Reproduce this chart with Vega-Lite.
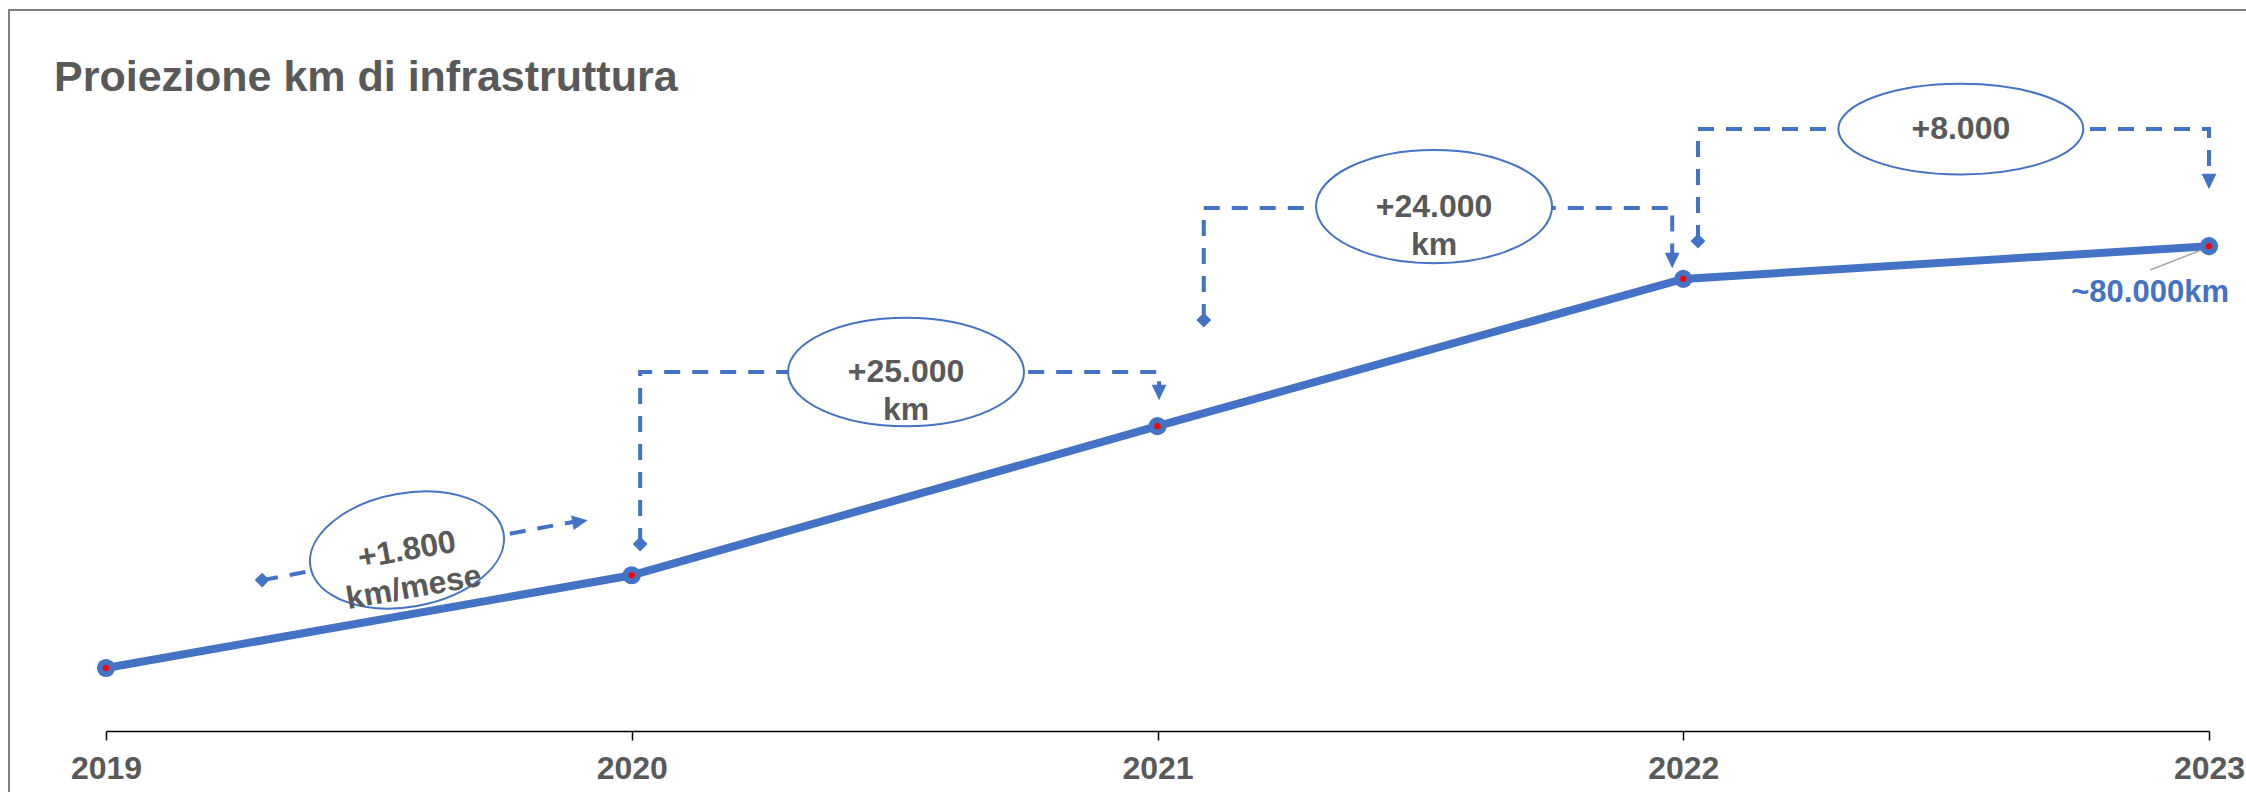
{
  "$schema": "https://vega.github.io/schema/vega-lite/v6.json",
  "autosize": "none",
  "width": 2103,
  "height": 606,
  "padding": {"left": 106, "top": 125, "right": 37, "bottom": 61},
  "background": "white",
  "config": {"view": {"stroke": null}, "font": "Liberation Sans"},
  "title": {
    "text": "Proiezione km di infrastruttura",
    "anchor": "start",
    "frame": "group",
    "dx": -52,
    "baseline": "alphabetic",
    "offset": -125,
    "font": "Liberation Sans",
    "fontSize": 43,
    "fontWeight": "bold",
    "color": "#595959"
  },
  "datasets": {
    "series": [
      {"year": 2019, "km": 10400},
      {"year": 2020, "km": 25700},
      {"year": 2021, "km": 50300},
      {"year": 2022, "km": 74600},
      {"year": 2023, "km": 80000}
    ],
    "connectors": [
      {"c": "A", "i": 0, "year": 2019.297, "km": 24900},
      {"c": "A", "i": 1, "year": 2019.888, "km": 34500},
      {"c": "B", "i": 0, "year": 2020.016, "km": 30855},
      {"c": "B", "i": 1, "year": 2020.016, "km": 59235},
      {"c": "B", "i": 2, "year": 2021.003, "km": 59235},
      {"c": "B", "i": 3, "year": 2021.003, "km": 57090},
      {"c": "C", "i": 0, "year": 2021.088, "km": 67815},
      {"c": "C", "i": 1, "year": 2021.088, "km": 86295},
      {"c": "C", "i": 2, "year": 2021.979, "km": 86295},
      {"c": "C", "i": 3, "year": 2021.979, "km": 78870},
      {"c": "D", "i": 0, "year": 2022.028, "km": 80850},
      {"c": "D", "i": 1, "year": 2022.028, "km": 99330},
      {"c": "D", "i": 2, "year": 2023.0, "km": 99330},
      {"c": "D", "i": 3, "year": 2023.0, "km": 91900}
    ],
    "starts": [
      {"c": "A", "year": 2019.297, "km": 24900},
      {"c": "B", "year": 2020.016, "km": 30855},
      {"c": "C", "year": 2021.088, "km": 67815},
      {"c": "D", "year": 2022.028, "km": 80850}
    ],
    "ends": [
      {"c": "A", "year": 2019.9016, "km": 34570},
      {"c": "B", "year": 2021.003, "km": 55850},
      {"c": "C", "year": 2021.979, "km": 77630},
      {"c": "D", "year": 2023.0, "km": 90670}
    ],
    "boxes": [
      {"c": "A", "year": 2019.5725, "km": 29865, "label": "+1.800\nkm/mese"},
      {"c": "B", "year": 2020.5217, "km": 59235, "label": "+25.000\nkm"},
      {"c": "C", "year": 2021.526, "km": 86543, "label": "+24.000\nkm"},
      {"c": "D", "year": 2022.528, "km": 99330, "label": "+8.000"}
    ],
    "leader": [
      {"year": 2022.888, "km": 76065, "year2": 2023.0, "km2": 79860}
    ],
    "final": [
      {"year": 2022.888, "km": 72270, "label": "~80.000km"}
    ],
    "frame": [
      {"year": 2018.8155, "km": 118965, "year2": 2023.4, "km2": -20000}
    ]
  },
  "encoding": {
    "x": {
      "field": "year",
      "type": "quantitative",
      "scale": {"domain": [2019, 2023], "nice": false, "zero": false},
      "axis": {
        "values": [2019, 2020, 2021, 2022, 2023],
        "format": "d",
        "title": null,
        "grid": false,
        "labelFont": "Liberation Sans",
        "labelFontSize": 32,
        "labelFontWeight": "bold",
        "labelColor": "#595959",
        "labelPadding": 13,
        "labelFlush": false,
        "labelOverlap": false,
        "domainColor": "#000000",
        "domainWidth": 1.5,
        "tickColor": "#000000",
        "tickWidth": 1.5,
        "tickSize": 9
      }
    },
    "y": {
      "field": "km",
      "type": "quantitative",
      "scale": {"domain": [0, 100000], "nice": false, "zero": false},
      "axis": null
    }
  },
  "layer": [
    {
      "data": {"name": "frame"},
      "mark": {"type": "rect", "fillOpacity": 0, "stroke": "#7f7f7f", "strokeWidth": 2, "clip": false},
      "encoding": {
        "x2": {"field": "year2"},
        "y2": {"field": "km2"}
      }
    },
    {
      "data": {"name": "connectors"},
      "mark": {"type": "line", "color": "#4472C4", "strokeWidth": 4, "strokeDash": [16, 12], "strokeCap": "butt"},
      "encoding": {
        "detail": {"field": "c", "type": "nominal"},
        "order": {"field": "i", "type": "quantitative"}
      }
    },
    {
      "data": {"name": "starts"},
      "mark": {"type": "point", "shape": "diamond", "filled": true, "color": "#4472C4", "size": 220, "opacity": 1},
      "encoding": {}
    },
    {
      "data": {"name": "ends"},
      "transform": [{"filter": "datum.c === 'A'"}],
      "mark": {"type": "point", "shape": "M1,0L-1,-0.95L-1,0.95Z", "filled": true, "color": "#4472C4", "size": 240, "opacity": 1, "angle": -10},
      "encoding": {}
    },
    {
      "data": {"name": "ends"},
      "transform": [{"filter": "datum.c !== 'A'"}],
      "mark": {"type": "point", "shape": "M1,0L-1,-0.95L-1,0.95Z", "filled": true, "color": "#4472C4", "size": 240, "opacity": 1, "angle": 90},
      "encoding": {}
    },
    {
      "data": {"name": "series"},
      "mark": {"type": "line", "color": "#4472C4", "strokeWidth": 8},
      "encoding": {}
    },
    {
      "data": {"name": "boxes"},
      "transform": [{"filter": "datum.c === 'A'"}],
      "mark": {"type": "point", "shape": "M-1,0A1,0.58,0,1,1,1,0A1,0.58,0,1,1,-1,0Z", "size": 38416, "angle": -10, "filled": true, "fill": "white", "stroke": "#4472C4", "strokeWidth": 2, "opacity": 1},
      "encoding": {}
    },
    {
      "data": {"name": "boxes"},
      "transform": [{"filter": "datum.c === 'B'"}],
      "mark": {"type": "point", "shape": "M-1,0A1,0.46,0,1,1,1,0A1,0.46,0,1,1,-1,0Z", "size": 55696, "filled": true, "fill": "white", "stroke": "#4472C4", "strokeWidth": 2, "opacity": 1},
      "encoding": {}
    },
    {
      "data": {"name": "boxes"},
      "transform": [{"filter": "datum.c === 'C'"}],
      "mark": {"type": "point", "shape": "M-1,0A1,0.48,0,1,1,1,0A1,0.48,0,1,1,-1,0Z", "size": 55696, "filled": true, "fill": "white", "stroke": "#4472C4", "strokeWidth": 2, "opacity": 1},
      "encoding": {}
    },
    {
      "data": {"name": "boxes"},
      "transform": [{"filter": "datum.c === 'D'"}],
      "mark": {"type": "point", "shape": "M-1,0A1,0.37,0,1,1,1,0A1,0.37,0,1,1,-1,0Z", "size": 60025, "filled": true, "fill": "white", "stroke": "#4472C4", "strokeWidth": 2, "opacity": 1},
      "encoding": {}
    },
    {
      "data": {"name": "boxes"},
      "transform": [{"filter": "datum.c === 'A'"}],
      "mark": {"type": "text", "font": "Liberation Sans", "fontSize": 32, "fontWeight": "bold", "color": "#595959", "lineBreak": "\n", "lineHeight": 38, "align": "center", "baseline": "middle", "angle": 350},
      "encoding": {"text": {"field": "label", "type": "nominal"}}
    },
    {
      "data": {"name": "boxes"},
      "transform": [{"filter": "datum.c !== 'A'"}],
      "mark": {"type": "text", "font": "Liberation Sans", "fontSize": 32, "fontWeight": "bold", "color": "#595959", "lineBreak": "\n", "lineHeight": 38, "align": "center", "baseline": "middle"},
      "encoding": {"text": {"field": "label", "type": "nominal"}}
    },
    {
      "data": {"name": "leader"},
      "mark": {"type": "rule", "color": "#A6A6A6", "strokeWidth": 1.5},
      "encoding": {
        "x2": {"field": "year2"},
        "y2": {"field": "km2"}
      }
    },
    {
      "data": {"name": "series"},
      "mark": {"type": "point", "shape": "circle", "filled": true, "color": "#4472C4", "size": 330, "opacity": 1},
      "encoding": {}
    },
    {
      "data": {"name": "series"},
      "mark": {"type": "point", "shape": "circle", "filled": true, "color": "#FF0000", "size": 40, "opacity": 1},
      "encoding": {}
    },
    {
      "data": {"name": "final"},
      "mark": {"type": "text", "font": "Liberation Sans", "fontSize": 31, "fontWeight": "bold", "color": "#4472C4", "align": "center", "baseline": "middle"},
      "encoding": {"text": {"field": "label", "type": "nominal"}}
    }
  ]
}
